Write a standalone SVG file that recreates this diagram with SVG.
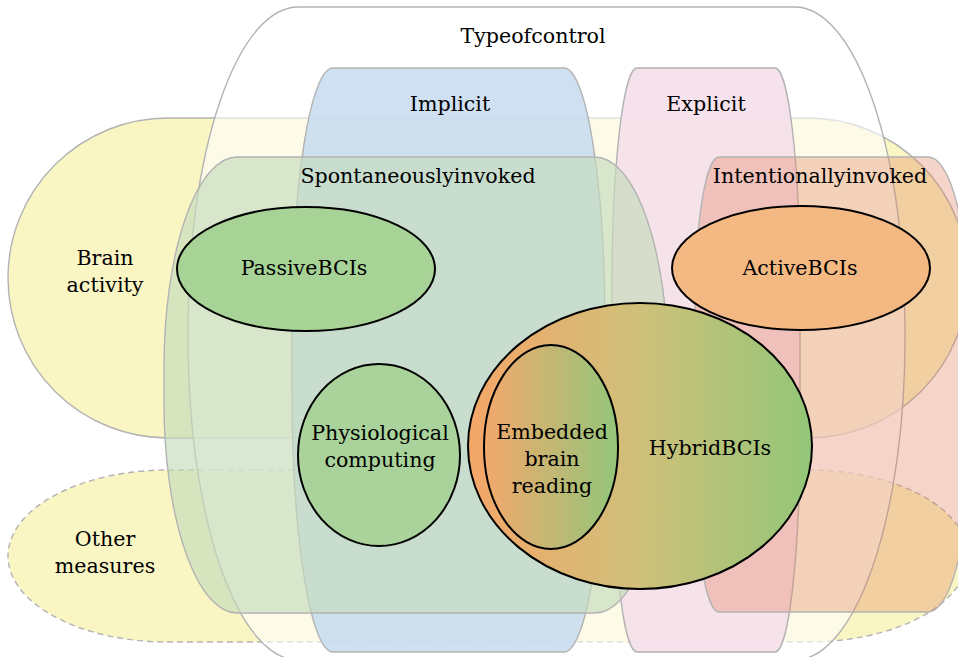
<svg xmlns="http://www.w3.org/2000/svg" width="958" height="657" viewBox="0 0 958 657">
<style>
  .bg { stroke: #b3b3b3; stroke-width: 1.4; }
  .el { stroke: #000; stroke-width: 2; }
  text { font-family: "DejaVu Serif", "Liberation Serif", serif; font-size: 20.6px; fill: #000; text-anchor: middle; }
</style>
<defs>
  <linearGradient id="gHybrid" x1="0" y1="0" x2="1" y2="0">
    <stop offset="0" stop-color="#f4a668"/>
    <stop offset="0.5" stop-color="#cfc07a"/>
    <stop offset="1" stop-color="#93c678"/>
  </linearGradient>
  <linearGradient id="gEmbedded" x1="0" y1="0" x2="1" y2="0">
    <stop offset="0" stop-color="#f3a86c"/>
    <stop offset="1" stop-color="#93c67a"/>
  </linearGradient>
</defs>
<rect width="958" height="657" fill="#fff"/>
<g id="brain-activity">
  <rect class="bg" x="8" y="118" width="960" height="320" rx="160" ry="160" fill="#faf6c4"/>
</g>
<g id="other-measures">
  <rect class="bg" x="8" y="470" width="960" height="172" rx="160" ry="86" fill="#faf6c4" stroke-dasharray="6 4"/>
</g>
<g id="type-of-control">
  <rect class="bg" x="188" y="7" width="717" height="653" rx="110" ry="320" fill="#fff" fill-opacity="0.6"/>
</g>
<g id="implicit">
  <rect class="bg" x="292" y="68" width="313" height="584" rx="41" ry="260" fill="#c6dbee" fill-opacity="0.85"/>
</g>
<g id="explicit">
  <rect class="bg" x="612" y="68" width="188" height="584" rx="25" ry="220" fill="#f5dde9" fill-opacity="0.85"/>
</g>
<g id="spontaneously-invoked">
  <rect class="bg" x="164" y="157" width="504" height="456" rx="73" ry="210" fill="#c5dbbc" fill-opacity="0.65"/>
</g>
<g id="intentionally-invoked">
  <path class="bg" d="M719,157 H928 A40,150 0 0 1 968,307 V462 A40,150 0 0 1 928,612 H719 A24,150 0 0 1 695,462 V307 A24,150 0 0 1 719,157 Z" fill="#e2805a" fill-opacity="0.33"/>
</g>
<g id="passive-bcis">
  <ellipse class="el" cx="306" cy="269" rx="129" ry="62" fill="#a8d397"/>
  <text x="304" y="275">PassiveBCIs</text>
</g>
<g id="active-bcis">
  <ellipse class="el" cx="801" cy="268" rx="129" ry="62" fill="#f4b883"/>
  <text x="800" y="275">ActiveBCIs</text>
</g>
<g id="physiological-computing">
  <ellipse class="el" cx="379" cy="455" rx="81" ry="91" fill="#a9d39a"/>
  <text x="380" y="440">Physiological</text>
  <text x="380" y="467">computing</text>
</g>
<g id="hybrid-bcis">
  <ellipse class="el" cx="640" cy="446" rx="172" ry="143" fill="url(#gHybrid)"/>
  <text x="710" y="455">HybridBCIs</text>
</g>
<g id="embedded-brain-reading">
  <ellipse class="el" cx="551" cy="447" rx="67" ry="102" fill="url(#gEmbedded)"/>
  <text x="552" y="439">Embedded</text>
  <text x="552" y="466">brain</text>
  <text x="552" y="493">reading</text>
</g>
<g id="labels">
  <text x="533" y="43">Typeofcontrol</text>
  <text x="450" y="111">Implicit</text>
  <text x="706" y="111">Explicit</text>
  <text x="418" y="183">Spontaneouslyinvoked</text>
  <text x="820" y="183">Intentionallyinvoked</text>
  <text x="105" y="265">Brain</text>
  <text x="105" y="292">activity</text>
  <text x="105" y="546">Other</text>
  <text x="105" y="573">measures</text>
</g>
<g id="connectors"/>
</svg>
